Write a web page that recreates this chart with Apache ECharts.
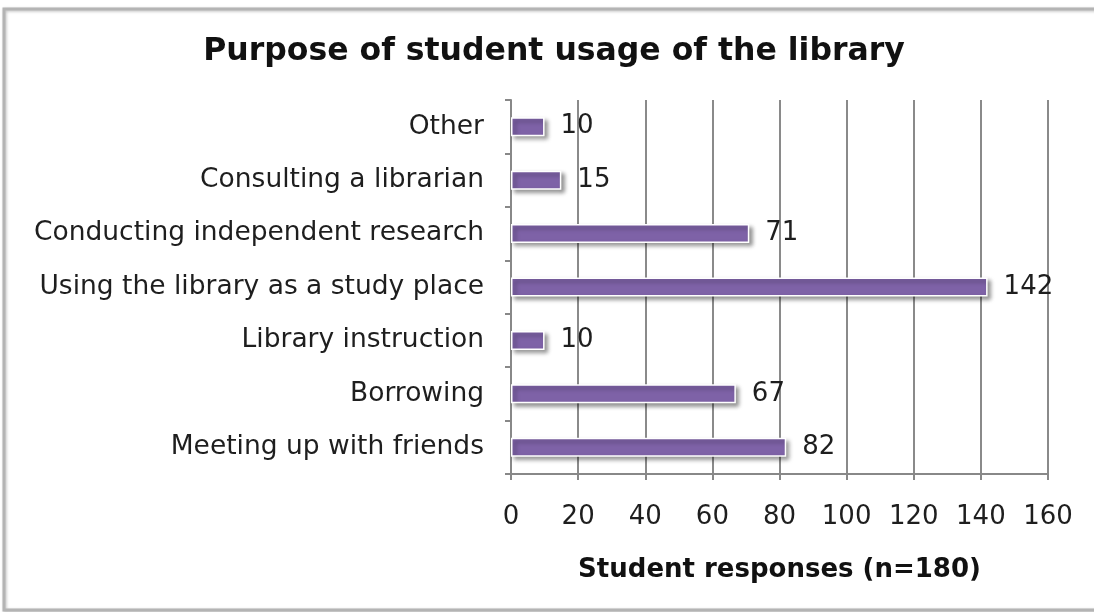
<!DOCTYPE html>
<html><head><meta charset="utf-8">
<script src="https://cdn.jsdelivr.net/npm/echarts@6/dist/echarts.min.js"></script>
<style>html,body{margin:0;padding:0;background:#fff}#c{width:1094px;height:612px}</style>
</head><body><div id="c"></div>
<script>
const categories = ["Meeting up with friends","Borrowing","Library instruction","Using the library as a study place","Conducting independent research","Consulting a librarian","Other"];
const values = [82,67,10,142,71,15,10];
const xTicks = [0,20,40,60,80,100,120,140,160];
const titleText = "Purpose of student usage of the library";
const xAxisName = "Student responses (n=180)";

const chart = echarts.init(document.getElementById('c'));
chart.setOption({
  animation:false,
  backgroundColor:'#fff',
  graphic:[{type:'rect',shape:{x:4,y:9,width:1100,height:601},style:{fill:'none',stroke:'#b4b4b4',lineWidth:3,shadowColor:'rgba(0,0,0,0.25)',shadowBlur:3,shadowOffsetX:1,shadowOffsetY:1}}],
  title:{text:titleText,left:549,top:31,textAlign:'center',textStyle:{fontFamily:'DejaVu Sans',fontWeight:'bold',fontSize:31.5,color:'#111'}},
  grid:{left:511,right:46,top:100,bottom:138,containLabel:false},
  xAxis:{type:'value',min:xTicks[0],max:xTicks[xTicks.length-1],interval:20,
    name:xAxisName,nameLocation:'middle',nameGap:83,
    nameTextStyle:{fontFamily:'DejaVu Sans',fontWeight:'bold',fontSize:26,color:'#111'},
    axisLine:{show:true,lineStyle:{color:'#888',width:2}},
    axisTick:{show:true,length:6,lineStyle:{color:'#888',width:2}},
    axisLabel:{fontFamily:'DejaVu Sans',fontSize:26,color:'#1e1e1e',margin:30},
    splitLine:{show:true,lineStyle:{color:'#8a8a8a',width:2}}},
  yAxis:{type:'category',data:categories,
    axisLine:{show:true,lineStyle:{color:'#888',width:2}},
    axisTick:{show:true,length:6,lineStyle:{color:'#888',width:2}},
    axisLabel:{fontFamily:'DejaVu Sans',fontSize:26.5,color:'#1e1e1e',margin:27}},
  series:[{type:'bar',data:values,barWidth:19,
    itemStyle:{color:'#7e62a7',borderColor:'#fff',borderWidth:1.5,shadowColor:'rgba(0,0,0,0.4)',shadowBlur:4,shadowOffsetX:3,shadowOffsetY:3},
    label:{show:true,position:'right',distance:16,fontFamily:'DejaVu Sans',fontSize:26,color:'#1e1e1e'}}]
});
</script></body></html>
